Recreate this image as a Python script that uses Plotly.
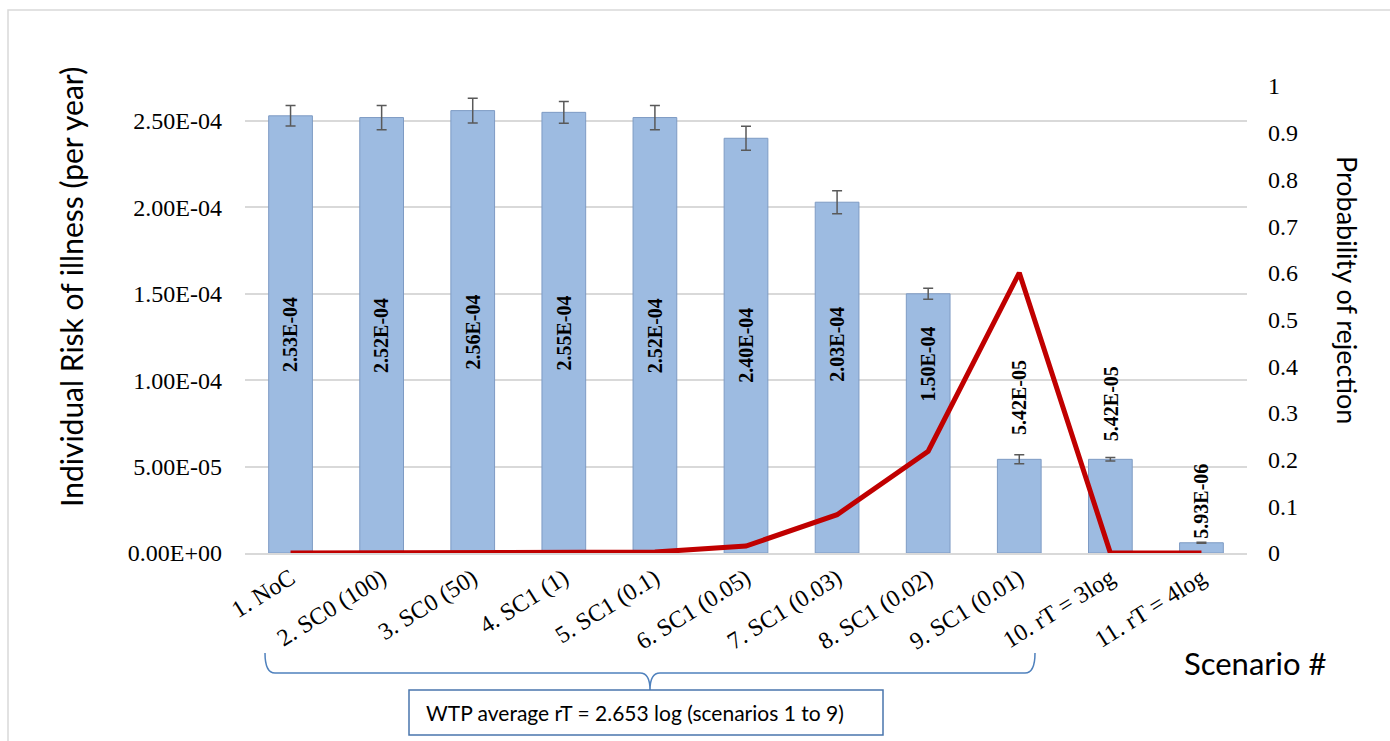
import plotly.graph_objects as go

# ---------------- data ----------------
categories = ["1. NoC", "2. SC0 (100)", "3. SC0 (50)", "4. SC1 (1)", "5. SC1 (0.1)",
              "6. SC1 (0.05)", "7. SC1 (0.03)", "8. SC1 (0.02)", "9. SC1 (0.01)",
              "10. rT = 3log", "11. rT = 4log"]
risk = [2.53e-4, 2.52e-4, 2.56e-4, 2.55e-4, 2.52e-4, 2.40e-4, 2.03e-4, 1.50e-4,
        5.42e-5, 5.42e-5, 5.93e-6]
risk_err = [5.9e-6, 7.0e-6, 7.2e-6, 6.3e-6, 7.0e-6, 7.0e-6, 6.7e-6, 3.2e-6,
            2.6e-6, 1.0e-6, 0.3e-6]
risk_labels = ["2.53E-04", "2.52E-04", "2.56E-04", "2.55E-04", "2.52E-04", "2.40E-04",
               "2.03E-04", "1.50E-04", "5.42E-05", "5.42E-05", "5.93E-06"]
p_reject = [0, 0, 0, 0, 0.002, 0.015, 0.082, 0.218, 0.60, 0, 0]
left_tickvals = [0, 5e-5, 1e-4, 1.5e-4, 2e-4, 2.5e-4]
left_ticktext = ["0.00E+00", "5.00E-05", "1.00E-04", "1.50E-04", "2.00E-04", "2.50E-04"]
right_tickvals = [0, 0.1, 0.2, 0.3, 0.4, 0.5, 0.6, 0.7, 0.8, 0.9, 1]
right_ticktext = ["0", "0.1", "0.2", "0.3", "0.4", "0.5", "0.6", "0.7", "0.8", "0.9", "1"]
box_text = "WTP average rT = 2.653 log (scenarios 1 to 9)"

# ---------------- layout geometry ----------------
W, H = 1390, 741
L, R, T, B = 245, 1247, 86, 553

def px(x):
    return (x - L) / (R - L)

def py(y):
    return (B - y) / (B - T)

SERIF = "Liberation Serif"
SANS = "Lato"

fig = go.Figure()
fig.add_trace(go.Bar(
    x=categories, y=risk,
    marker=dict(color="#9DBBE1", line=dict(color="#7E9BC4", width=1)),
    error_y=dict(type="data", array=risk_err, color="#595959", thickness=1.5, width=5),
    showlegend=False, hoverinfo="skip",
))
fig.add_trace(go.Scatter(
    x=categories, y=p_reject, yaxis="y2", mode="lines",
    line=dict(color="#C00000", width=5), showlegend=False, hoverinfo="skip",
    cliponaxis=False,
))

# value labels: inside (centred, with small upward offsets) and outside
n_inside = 8
inside_shift = [0, 0, 0, 0, 0, 0, 33, 59]
outside_shift = [22, 16, 2]
for i, lab in enumerate(risk_labels):
    if i < n_inside:
        fig.add_annotation(x=categories[i], y=risk[i] / 2, xref="x", yref="y",
                           text="<b>" + lab + "</b>", textangle=-90,
                           xanchor="center", yanchor="middle",
                           yshift=inside_shift[i], showarrow=False,
                           font=dict(family=SERIF, size=20, color="black"))
    else:
        fig.add_annotation(x=categories[i], y=risk[i], xref="x", yref="y",
                           text="<b>" + lab + "</b>", textangle=-90,
                           xanchor="center", yanchor="bottom",
                           yshift=outside_shift[i - n_inside], showarrow=False,
                           font=dict(family=SERIF, size=20, color="black"))

# axis titles
fig.add_annotation(x=px(71), y=py(287), xref="paper", yref="paper",
                   xanchor="center", yanchor="middle",
                   text="Individual Risk of illness (per year)", textangle=-90,
                   showarrow=False, font=dict(family=SANS, size=30, color="black"))
fig.add_annotation(x=px(1348), y=py(290), xref="paper", yref="paper",
                   xanchor="center", yanchor="middle",
                   text="Probability of rejection", textangle=90,
                   showarrow=False, font=dict(family=SANS, size=27, color="black"))
fig.add_annotation(x=px(1255), y=py(663), xref="paper", yref="paper",
                   xanchor="center", yanchor="middle",
                   text="Scenario #", showarrow=False,
                   font=dict(family=SANS, size=31, color="black"))

# brace
bc = "#4F81BD"
pts = [(265, 653), (265, 673), (275, 673), (640, 673), (650, 673), (650, 690),
       (650, 673), (660, 673), (1025, 673), (1035, 673), (1035, 653)]
P = [(px(a), py(b)) for a, b in pts]
path = (f"M {P[0][0]},{P[0][1]} Q {P[1][0]},{P[1][1]} {P[2][0]},{P[2][1]} "
        f"L {P[3][0]},{P[3][1]} Q {P[4][0]},{P[4][1]} {P[5][0]},{P[5][1]} "
        f"Q {P[6][0]},{P[6][1]} {P[7][0]},{P[7][1]} L {P[8][0]},{P[8][1]} "
        f"Q {P[9][0]},{P[9][1]} {P[10][0]},{P[10][1]}")
fig.add_shape(type="path", path=path, xref="paper", yref="paper",
              line=dict(color=bc, width=1.5))
# text box
fig.add_shape(type="rect", xref="paper", yref="paper",
              x0=px(409), x1=px(883), y0=py(690), y1=py(735),
              line=dict(color="#4A76AD", width=1.5), fillcolor="white")
fig.add_annotation(x=px(424), y=py(712), xref="paper", yref="paper",
                   text=box_text, xanchor="left", yanchor="middle", showarrow=False,
                   font=dict(family=SANS, size=21, color="black"))
# outer border
fig.add_shape(type="rect", xref="paper", yref="paper",
              x0=px(8), x1=px(1420), y0=py(10), y1=py(780),
              line=dict(color="#D9D9D9", width=1.5), layer="below")

fig.update_layout(
    width=W, height=H,
    margin=dict(l=L, r=W - R, t=T, b=H - B),
    paper_bgcolor="white", plot_bgcolor="white",
    bargap=0.52,
    xaxis=dict(type="category", tickangle=-32, showgrid=False,
               showline=True, linecolor="#D9D9D9", linewidth=1.5,
               tickfont=dict(family=SERIF, size=24, color="black"),
               ticklabelstandoff=0),
    yaxis=dict(range=[0, 2.7025e-4], tickvals=left_tickvals, ticktext=left_ticktext,
               showgrid=True, gridcolor="#D9D9D9", gridwidth=1.5, zeroline=False,
               tickfont=dict(family=SERIF, size=24, color="black"),
               ticklabelstandoff=22),
    yaxis2=dict(range=[0, 1], overlaying="y", side="right", showgrid=False,
                tickvals=right_tickvals, ticktext=right_ticktext, zeroline=False,
                tickfont=dict(family=SERIF, size=24, color="black"),
                ticklabelstandoff=20),
)

fig.write_html("out.html", config={"displayModeBar": False},
               post_script="document.body.style.margin='0';document.body.style.overflow='hidden';")
